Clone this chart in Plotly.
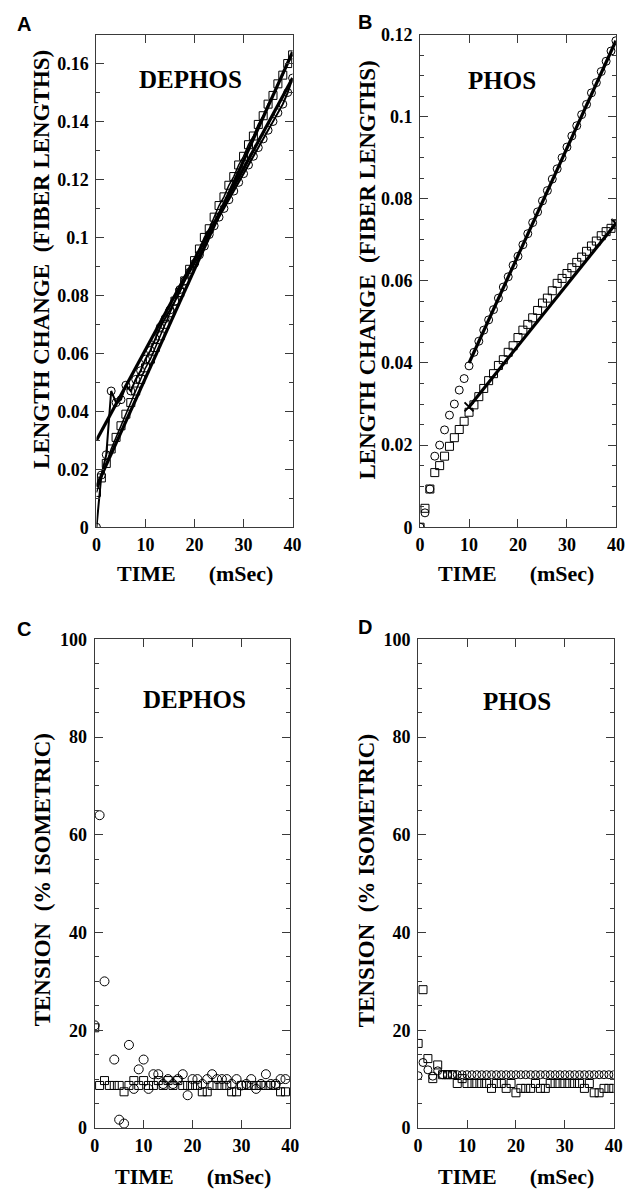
import plotly.graph_objects as go

W, H = 644, 1195

# ---------------- data ----------------
time_ms = list(range(41))

# Panel A (DEPHOS) length change
lenA_circ = [0.000, 0.018, 0.025, 0.047, 0.043, 0.044, 0.049, 0.047, 0.051, 0.054,
             0.058, 0.061, 0.065, 0.069, 0.072, 0.075, 0.078, 0.082, 0.085, 0.088,
             0.091, 0.094, 0.097, 0.101, 0.104, 0.107, 0.110, 0.113, 0.116, 0.119,
             0.122, 0.125, 0.128, 0.131, 0.134, 0.137, 0.140, 0.143, 0.146, 0.150, 0.155]
lenA_sq = [0.012, 0.017, 0.022, 0.027, 0.031, 0.035, 0.039, 0.043, 0.047, 0.051,
           0.055, 0.058, 0.062, 0.066, 0.070, 0.074, 0.078, 0.081, 0.085, 0.089,
           0.092, 0.096, 0.100, 0.103, 0.107, 0.111, 0.114, 0.118, 0.121, 0.125,
           0.128, 0.132, 0.135, 0.139, 0.142, 0.146, 0.149, 0.153, 0.156, 0.160, 0.163]
fitA_t = [0, 40]
fitA_circ = [0.030, 0.155]
fitA_sq = [0.014, 0.164]

# Panel B (PHOS) length change
lenB_circ = [0.000, 0.0035, 0.0093, 0.0173, 0.0200, 0.0237, 0.0273, 0.0300, 0.0334, 0.0362,
             0.0393, 0.0426, 0.0453, 0.0480, 0.0505, 0.0530, 0.0558, 0.0585, 0.0610, 0.0638,
             0.0660, 0.0688, 0.0715, 0.0742, 0.0768, 0.0795, 0.0820, 0.0848, 0.0873, 0.0900,
             0.0926, 0.0953, 0.0978, 0.1005, 0.1030, 0.1058, 0.1083, 0.1110, 0.1135, 0.1160, 0.1185]
lenB_sq = [0.000, 0.0046, 0.0093, 0.0133, 0.0150, 0.0173, 0.0197, 0.0218, 0.0238, 0.0258,
           0.0280, 0.0298, 0.0318, 0.0338, 0.0357, 0.0374, 0.0394, 0.0408, 0.0426, 0.0442,
           0.0462, 0.0480, 0.0494, 0.0510, 0.0528, 0.0546, 0.0558, 0.0576, 0.0594, 0.0606,
           0.0618, 0.0632, 0.0645, 0.0658, 0.0672, 0.0685, 0.0697, 0.0710, 0.0720, 0.0728, 0.0738]
fitB_t = [10, 40]
fitB_circ = [0.0400, 0.1185]
fitB_sq = [0.0293, 0.0740]

# Panel C (DEPHOS) tension
tenC_circ = [21, 64, 30, None, 14, 1.7, 0.9, 17, 8, 12,
             14, 8, 11, 11, 9, 10, 9, 10, 11, 6.7,
             10, 10, 9, 10, 11, 10, 10, 10, 9, 10,
             8.7, 9, 10, 8, 9, 11, 9, 9, 10, 10, None]
tenC_sq = [20.5, 8.7, 9.7, 8.7, 8.7, 8.7, 7.4, 8.7, 9.7, 8.7,
           9.7, 8.7, 8.7, 9.7, 8.7, 9.7, 8.7, 9.7, 8.7, 8.7,
           8.7, 8.7, 7.4, 7.4, 8.7, 8.7, 8.7, 8.7, 7.4, 7.4,
           8.7, 8.7, 8.7, 8.7, 8.7, 8.7, 8.7, 8.7, 7.4, 7.4, None]

# Panel D (PHOS) tension
tenD_circ = [10.7, 13.4, 11.9, 10.6, 11.7, 10.9, 10.9, 10.9, 10.9, 10.9,
             10.9, 10.9, 10.9, 10.9, 10.9, 10.9, 10.9, 10.9, 10.9, 10.9,
             10.9, 10.9, 10.9, 10.9, 10.9, 10.9, 10.9, 10.9, 10.9, 10.9,
             10.9, 10.9, 10.9, 10.9, 10.9, 10.9, 10.9, 10.9, 10.9, 10.9, 10.9]
tenD_sq = [17.3, 28.3, 14.2, 10.1, 12.9, 10.9, 10.9, 10.9, 9.1, 10.1,
           9.1, 9.1, 9.1, 9.1, 9.1, 8.1, 9.1, 9.1, 8.1, 9.1,
           7.2, 8.1, 8.1, 8.1, 9.1, 8.1, 8.1, 9.1, 9.1, 9.1,
           9.1, 9.1, 9.1, 9.1, 8.1, 9.1, 7.2, 7.2, 8.1, 8.1, 8.1]

x_ticks = [0, 10, 20, 30, 40]
x_ticktext = ["0", "10", "20", "30", "40"]
yA_ticks = [0, 0.02, 0.04, 0.06, 0.08, 0.1, 0.12, 0.14, 0.16]
yA_ticktext = ["0", "0.02", "0.04", "0.06", "0.08", "0.1", "0.12", "0.14", "0.16"]
yB_ticks = [0, 0.02, 0.04, 0.06, 0.08, 0.1, 0.12]
yB_ticktext = ["0", "0.02", "0.04", "0.06", "0.08", "0.1", "0.12"]
yT_ticks = [0, 20, 40, 60, 80, 100]
yT_ticktext = ["0", "20", "40", "60", "80", "100"]

# ---------------- helpers ----------------
def px(x):
    return x / W

def py(y):
    return 1 - y / H

SERIF = "Liberation Serif"
AX = "#3a3a3a"

fig = go.Figure()

def circ(x, y, xa, ya, size=8, lines=False, lw=1.5):
    fig.add_trace(go.Scatter(
        x=x, y=y, xaxis=xa, yaxis=ya,
        mode="lines+markers" if lines else "markers",
        line=dict(color="black", width=lw),
        marker=dict(symbol="circle-open", size=size, color="black", line=dict(width=1)),
        showlegend=False, connectgaps=False))

def sq(x, y, xa, ya, size=8, lines=False, lw=1.5):
    fig.add_trace(go.Scatter(
        x=x, y=y, xaxis=xa, yaxis=ya,
        mode="lines+markers" if lines else "markers",
        line=dict(color="black", width=lw),
        marker=dict(symbol="square-open", size=size, color="black", line=dict(width=1)),
        showlegend=False, connectgaps=False))

def fit(x, y, xa, ya, width=3.2, marker=None):
    fig.add_trace(go.Scatter(
        x=x, y=y, xaxis=xa, yaxis=ya,
        mode="lines+markers" if marker else "lines",
        line=dict(color="black", width=width),
        marker=dict(symbol=marker or "circle", size=9, color="black",
                    line=dict(width=2, color="black")) if marker else None,
        showlegend=False))

# Panel A
sq(time_ms, lenA_sq, "x", "y", lines=True, lw=1.5)
circ(time_ms, lenA_circ, "x", "y", lines=True, lw=2)
fit(fitA_t, fitA_circ, "x", "y")
fit(fitA_t, fitA_sq, "x", "y")

# Panel B
circ(time_ms, lenB_circ, "x2", "y2")
sq(time_ms, lenB_sq, "x2", "y2")
fit(fitB_t, fitB_circ, "x2", "y2")
fit(fitB_t, fitB_sq, "x2", "y2", marker="x-thin-open")

# Panel C
circ(time_ms, tenC_circ, "x3", "y3", size=9)
sq(time_ms, tenC_sq, "x3", "y3", size=8)

# Panel D
circ(time_ms, tenD_circ, "x4", "y4", size=8)
sq(time_ms, tenD_sq, "x4", "y4", size=8)

tickfont = dict(family=SERIF, size=18, color="black", weight="bold")

def xaxis(dom, anchor):
    return dict(domain=dom, anchor=anchor, range=[0, 40], tickvals=x_ticks, ticktext=x_ticktext,
                ticks="inside", ticklen=8, tickwidth=1, tickcolor=AX, mirror="ticks",
                showline=True, linecolor=AX, linewidth=1, showgrid=False, zeroline=False,
                tickfont=tickfont, ticklabelstandoff=1)

def yaxis(dom, anchor, rng, tv, tt, minor_dt):
    return dict(domain=dom, anchor=anchor, range=rng, tickvals=tv, ticktext=tt,
                ticks="inside", ticklen=8, tickwidth=1, tickcolor=AX, mirror="ticks",
                showline=True, linecolor=AX, linewidth=1, showgrid=False, zeroline=False,
                tickfont=tickfont, ticklabelstandoff=3,
                minor=dict(dtick=minor_dt, tick0=0, ticks="inside", ticklen=4,
                           tickcolor=AX, tickwidth=1, showgrid=False))

xA = [px(93.5), px(294)]
xB = [px(424.3), px(624.5)]
xC = [px(91.7), px(291.7)]
xD = [px(422.3), px(622.3)]
yAB = [py(526), py(25)]
yCD = [py(1137), py(640)]

fig.update_layout(
    width=W, height=H, autosize=False,
    margin=dict(l=0, r=0, t=0, b=0),
    paper_bgcolor="white", plot_bgcolor="white",
    xaxis=xaxis(xA, "y"),
    yaxis=yaxis(yAB, "x", [0, 0.17], yA_ticks, yA_ticktext, 0.01),
    xaxis2=xaxis(xB, "y2"),
    yaxis2=yaxis(yAB, "x2", [0, 0.12], yB_ticks, yB_ticktext, 0.005),
    xaxis3=xaxis(xC, "y3"),
    yaxis3=yaxis(yCD, "x3", [0, 100], yT_ticks, yT_ticktext, 5),
    xaxis4=xaxis(xD, "y4"),
    yaxis4=yaxis(yCD, "x4", [0, 100], yT_ticks, yT_ticktext, 5),
)

ann = []
def text(x, y, s, size, angle=0, family=SERIF):
    ann.append(dict(x=px(x), y=py(y), xref="paper", yref="paper", text=s,
                    showarrow=False, textangle=angle, xanchor="center", yanchor="middle",
                    font=dict(family=family, size=size, color="black", weight="bold")))

NB = "\u00a0"
time_title = "TIME" + NB * 6 + "(mSec)"
len_title = "LENGTH CHANGE" + NB * 2 + "(FIBER LENGTHS)"
ten_title = "TENSION" + NB * 2 + "(% ISOMETRIC)"

# panel letters
text(19, 14, "A", 20, family="Liberation Sans")
text(368, 12, "B", 20, family="Liberation Sans")
text(19, 630, "C", 20, family="Liberation Sans")
text(368, 628, "D", 20, family="Liberation Sans")

# inner labels
text(190, 71, "DEPHOS", 25)
text(508, 72, "PHOS", 25)
text(194, 701, "DEPHOS", 25)
text(523, 703, "PHOS", 25)

# axis titles
text(194, 573, time_title, 22)
text(522, 573, time_title, 22)
text(192, 1186, time_title, 22)
text(522, 1186, time_title, 22)
text(38, 254, len_title, 23, angle=-90)
text(371, 264, len_title, 23, angle=-90)
text(38, 885, ten_title, 23, angle=-90)
text(369, 885, ten_title, 23, angle=-90)

fig.update_layout(annotations=ann)

fig.write_html("out.html", config={"displayModeBar": False},
               post_script="document.body.style.margin='0';")
